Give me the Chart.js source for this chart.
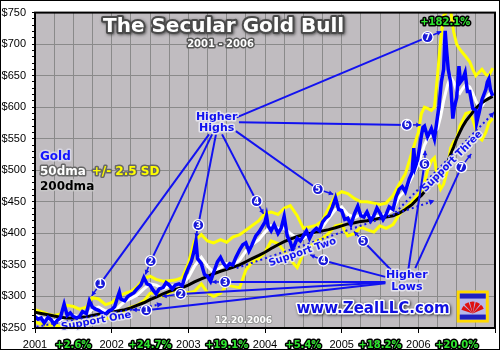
<!DOCTYPE html>
<html>
<head>
<meta charset="utf-8">
<script src="https://cdn.jsdelivr.net/npm/chart.js@4.4.1/dist/chart.umd.min.js"></script>
<style>
  body { margin: 0; background: #fff; }
  #wrap { width: 500px; height: 350px; position: relative; }
</style>
</head>
<body>
<div id="wrap"><canvas id="goldChart"></canvas></div>
<script>
// 金価格（半月ごと、ピーク付近は追加）
const goldDates = [
  2001.00, 2001.04, 2001.08, 2001.12, 2001.17, 2001.21, 2001.25, 2001.29, 2001.33, 2001.38, 2001.42, 2001.46,
  2001.50, 2001.54, 2001.58, 2001.62, 2001.67, 2001.71, 2001.75, 2001.79, 2001.83, 2001.88, 2001.92, 2001.96,
  2002.00, 2002.04, 2002.08, 2002.10, 2002.12, 2002.17, 2002.21, 2002.25, 2002.29, 2002.33, 2002.38, 2002.42,
  2002.46, 2002.50, 2002.54, 2002.58, 2002.62, 2002.67, 2002.71, 2002.75, 2002.79, 2002.83, 2002.88, 2002.92, 2002.96,
  2003.00, 2003.04, 2003.07, 2003.10, 2003.12, 2003.17, 2003.21, 2003.25, 2003.29, 2003.33, 2003.38, 2003.42,
  2003.46, 2003.50, 2003.54, 2003.58, 2003.62, 2003.67, 2003.71, 2003.75, 2003.79, 2003.83, 2003.88, 2003.92, 2003.96,
  2004.00, 2004.02, 2004.04, 2004.08, 2004.12, 2004.17, 2004.21, 2004.25, 2004.29, 2004.33, 2004.36, 2004.38,
  2004.42, 2004.46, 2004.50, 2004.54, 2004.58, 2004.62, 2004.67, 2004.71, 2004.75, 2004.79, 2004.83, 2004.88, 2004.92, 2004.96,
  2005.00, 2005.04, 2005.08, 2005.12, 2005.17, 2005.21, 2005.25, 2005.29, 2005.33, 2005.38, 2005.42, 2005.46,
  2005.50, 2005.54, 2005.58, 2005.62, 2005.67, 2005.71, 2005.75, 2005.79, 2005.83, 2005.88, 2005.92, 2005.94, 2005.96, 2005.99,
  2006.04, 2006.06, 2006.08, 2006.12, 2006.17, 2006.21, 2006.25, 2006.27, 2006.30, 2006.33, 2006.35, 2006.37, 2006.39,
  2006.42, 2006.45, 2006.47, 2006.50, 2006.53, 2006.55, 2006.58, 2006.61, 2006.64, 2006.67, 2006.71, 2006.75, 2006.76,
  2006.79, 2006.83, 2006.88, 2006.90, 2006.92, 2006.94, 2006.97
];
const goldPrice = [
  268, 264, 266, 258, 267, 263, 256, 262, 266, 288, 270, 274,
  268, 266, 268, 276, 273, 293, 283, 280, 278, 274, 272, 277,
  279, 284, 300, 307, 296, 293, 300, 303, 306, 312, 318, 330,
  320, 318, 310, 304, 312, 314, 322, 318, 312, 318, 320, 317, 333,
  345, 356, 370, 388, 360, 352, 335, 332, 324, 338, 355, 362,
  352, 346, 352, 350, 362, 374, 382, 385, 372, 382, 396, 402, 410,
  418, 428, 412, 404, 414, 400, 408, 427, 396, 386, 374, 380,
  392, 388, 396, 404, 392, 402, 408, 404, 418, 424, 428, 442, 456, 438,
  436, 422, 424, 414, 432, 443, 428, 426, 434, 420, 428, 440,
  432, 422, 430, 442, 438, 458, 470, 474, 466, 486, 497, 535, 505, 516,
  555, 568, 570, 553, 566, 550, 585, 602, 640, 660, 721, 688, 660,
  640, 582, 600, 615, 665, 640, 645, 655, 625, 625, 598, 595, 575,
  590, 612, 628, 640, 645, 628, 618
];

// 移動平均・バンド（2001〜2005は月次、2006は半月）
const bandDates = [
  2001.00, 2001.08, 2001.17, 2001.25, 2001.33, 2001.42, 2001.50, 2001.58, 2001.67, 2001.75, 2001.83, 2001.92,
  2002.00, 2002.08, 2002.17, 2002.25, 2002.33, 2002.42, 2002.50, 2002.58, 2002.67, 2002.75, 2002.83, 2002.92,
  2003.00, 2003.08, 2003.17, 2003.25, 2003.33, 2003.42, 2003.50, 2003.58, 2003.67, 2003.75, 2003.83, 2003.92,
  2004.00, 2004.08, 2004.17, 2004.25, 2004.33, 2004.42, 2004.50, 2004.58, 2004.67, 2004.75, 2004.83, 2004.92,
  2005.00, 2005.08, 2005.17, 2005.25, 2005.33, 2005.42, 2005.50, 2005.58, 2005.67, 2005.75, 2005.83, 2005.92,
  2006.00, 2006.04, 2006.08, 2006.12, 2006.17, 2006.21, 2006.25, 2006.29, 2006.33, 2006.38, 2006.42, 2006.46,
  2006.50, 2006.54, 2006.58, 2006.62, 2006.67, 2006.71, 2006.75, 2006.79, 2006.83, 2006.88, 2006.92, 2006.97
];
const dma50 = [
  271, 266, 263, 262, 262, 270, 270, 268, 270, 280, 283, 277,
  278, 282, 292, 297, 302, 312, 320, 318, 312, 316, 318, 320,
  330, 348, 362, 348, 338, 346, 352, 350, 358, 372, 382, 390,
  402, 412, 408, 408, 400, 392, 392, 398, 402, 410, 424, 438,
  442, 430, 425, 430, 428, 426, 428, 430, 438, 458, 468, 490,
  510, 525, 540, 550, 556, 560, 566, 585, 610, 635, 648, 640,
  626, 622, 630, 636, 632, 622, 610, 600, 602, 612, 620, 626
];
const dma200 = [
  275, 273, 271, 269, 267, 266, 266, 267, 268, 270, 272, 273,
  275, 277, 279, 282, 286, 290, 295, 299, 304, 308, 311, 314,
  318, 323, 328, 332, 336, 340, 343, 346, 350, 355, 360, 365,
  370, 376, 382, 387, 391, 395, 398, 400, 402, 404, 406, 409,
  412, 415, 417, 419, 420, 422, 424, 426, 428, 432, 438, 446,
  456, 460, 466, 472, 477, 484, 490, 497, 503, 512, 525, 537,
  550, 560, 570, 578, 586, 592, 598, 603, 607, 611, 614, 617
];
const upperBand = [
  279, 276, 272, 270, 272, 286, 284, 280, 283, 298, 296, 287,
  290, 299, 305, 308, 315, 328, 332, 327, 324, 325, 326, 330,
  352, 388, 398, 388, 385, 390, 386, 394, 398, 405, 412, 420,
  432, 434, 430, 440, 444, 428, 408, 410, 413, 420, 440, 460,
  466, 463, 455, 450, 450, 448, 446, 448, 460, 478, 494, 530,
  560, 590, 600, 598, 595, 600, 650, 705, 745, 752, 755, 720,
  700, 692, 686, 680, 672, 660, 650, 655, 660, 652, 650, 662
];
const lowerBand = [
  260, 256, 254, 255, 252, 253, 258, 260, 258, 262, 268, 266,
  265, 266, 278, 283, 286, 293, 305, 306, 300, 306, 310, 308,
  306, 308, 320, 306, 300, 305, 318, 316, 314, 342, 354, 360,
  370, 388, 384, 372, 358, 346, 368, 378, 388, 392, 400, 412,
  414, 396, 400, 410, 406, 402, 412, 408, 414, 430, 440, 450,
  462, 468, 480, 500, 515, 520, 485, 470, 478, 500, 535, 545,
  550, 570, 580, 590, 592, 580, 565, 552, 548, 560, 575, 582
];

// 年間騰落率（年の中央に表示）
const yearMid = [2001.5, 2002.5, 2003.5, 2004.5, 2005.5, 2006.5];
const yearGain = ['+2.6%', '+24.7%', '+19.1%', '+5.4%', '+18.2%', '+20.0%'];

// 注記（[年, 価格]）
const highBadges = [[2001.85, 320], [2002.51, 356], [2003.13, 413], [2003.89, 451], [2004.69, 470], [2005.85, 572], [2006.12, 711]];
const highTips   = [[2001.74, 301], [2002.44, 335], [2003.10, 393], [2003.98, 431], [2004.89, 462], [2006.03, 572], [2006.30, 720]];
const highFrom   = [[2003.27, 557], [2003.31, 557], [2003.36, 557], [2003.44, 557], [2003.62, 562], [2003.66, 576], [2003.63, 584]];
const lowBadges  = [[2002.45, 278], [2002.90, 304], [2003.48, 323], [2004.76, 357], [2005.28, 388], [2006.08, 510], [2006.56, 505]];
const lowTips    = [[2002.27, 279], [2002.66, 300], [2003.31, 323], [2004.59, 366], [2005.16, 403], [2006.09, 531], [2006.69, 526]];
const lowFrom    = [[2005.57, 321], [2005.57, 322], [2005.57, 323], [2005.57, 331], [2005.66, 340], [2005.87, 343], [2005.96, 345]];
const supportNames = ['Support One', 'Support Two', 'Support Three'];
const supportFrom  = [[2001.02, 252], [2003.63, 345], [2005.70, 433]];
const supportTo    = [[2002.66, 288], [2006.21, 452], [2006.99, 592]];
const supportText  = [[2001.80, 261], [2004.49, 370], [2006.44, 514]];

Chart.defaults.font.family = "'Liberation Sans', Arial, sans-serif";
const BOLD = "'DejaVu Sans', Verdana, sans-serif";

function outlined(ctx, text, x, y, o) {
  ctx.save();
  ctx.translate(x, y);
  if (o.rot) ctx.rotate(o.rot);
  ctx.font = o.font;
  ctx.textAlign = o.align || 'center';
  ctx.textBaseline = 'middle';
  ctx.lineJoin = 'round';
  if (o.shadow) {
    ctx.shadowColor = o.shadow;
    ctx.shadowBlur = 3;
    ctx.shadowOffsetX = 1;
    ctx.shadowOffsetY = 1;
  }
  if (o.stroke) {
    ctx.strokeStyle = o.stroke;
    ctx.lineWidth = o.lw || 3;
    ctx.strokeText(text, 0, 0);
  }
  ctx.shadowColor = 'transparent';
  ctx.fillStyle = o.fill;
  ctx.fillText(text, 0, 0);
  ctx.restore();
}

function arrowHead(ctx, x1, y1, x2, y2, size) {
  const a = Math.atan2(y2 - y1, x2 - x1);
  ctx.beginPath();
  ctx.moveTo(x2, y2);
  ctx.lineTo(x2 - size * Math.cos(a - 0.5), y2 - size * Math.sin(a - 0.5));
  ctx.lineTo(x2 - size * Math.cos(a + 0.5), y2 - size * Math.sin(a + 0.5));
  ctx.closePath();
  ctx.fill();
}

function badge(ctx, n, x, y) {
  ctx.beginPath();
  ctx.arc(x, y, 5.5, 0, Math.PI * 2);
  ctx.fillStyle = '#1a1ad8';
  ctx.fill();
  ctx.strokeStyle = '#ffffff';
  ctx.lineWidth = 1.3;
  ctx.stroke();
  ctx.fillStyle = '#ffffff';
  ctx.font = `bold 8px ${BOLD}`;
  ctx.textAlign = 'center';
  ctx.textBaseline = 'middle';
  ctx.fillText(String(n), x, y + 0.5);
}

const plotBg = {
  id: 'plotBg',
  beforeDraw(chart) {
    const { ctx, chartArea: a } = chart;
    ctx.save();
    ctx.fillStyle = '#c0bcc0';
    ctx.fillRect(a.left, a.top, a.right - a.left, a.bottom - a.top);
    ctx.restore();
  },
  afterDraw(chart) {
    const { ctx, chartArea: a } = chart;
    ctx.save();
    ctx.strokeStyle = '#000';
    ctx.lineWidth = 2;
    ctx.strokeRect(a.left, a.top, a.right - a.left, a.bottom - a.top);
    ctx.lineWidth = 1;
    ctx.strokeRect(0.5, 0.5, chart.width - 1, chart.height - 1);
    ctx.restore();
  }
};

const annotations = {
  id: 'annotations',
  afterDatasetsDraw(chart) {
    const { ctx, scales: { x, y }, chartArea } = chart;
    const P = ([yr, v]) => [x.getPixelForValue(yr), y.getPixelForValue(v)];
    const blue = '#1212f0';
    const halo = 'rgba(235,235,245,0.85)';
    ctx.save();

    // サポートライン（点線＋矢印）
    supportFrom.forEach((f, i) => {
      const [x1, y1] = P(f), [x2, y2] = P(supportTo[i]);
      ctx.strokeStyle = blue;
      ctx.fillStyle = blue;
      ctx.lineWidth = 2;
      ctx.setLineDash([2, 3]);
      ctx.beginPath();
      ctx.moveTo(x1, y1);
      ctx.lineTo(x2, y2);
      ctx.stroke();
      ctx.setLineDash([]);
      arrowHead(ctx, x1, y1, x2, y2, 6);
      const [tx, ty] = P(supportText[i]);
      outlined(ctx, supportNames[i], tx, ty, {
        font: `bold 10px ${BOLD}`, fill: blue, stroke: halo, lw: 3,
        rot: Math.atan2(y2 - y1, x2 - x1)
      });
    });

    // 高値・安値へのリード線
    ctx.strokeStyle = blue;
    ctx.lineWidth = 2;
    highFrom.forEach((f, i) => {
      const [x1, y1] = P(f), [x2, y2] = P(highBadges[i]);
      ctx.beginPath(); ctx.moveTo(x1, y1); ctx.lineTo(x2, y2); ctx.stroke();
    });
    lowFrom.forEach((f, i) => {
      const [x1, y1] = P(f), [x2, y2] = P(lowBadges[i]);
      ctx.beginPath(); ctx.moveTo(x1, y1); ctx.lineTo(x2, y2); ctx.stroke();
    });

    // 番号付き矢印
    const drawBadges = (badges, tips) => badges.forEach((b, i) => {
      const [x1, y1] = P(b), [x2, y2] = P(tips[i]);
      ctx.strokeStyle = blue;
      ctx.fillStyle = blue;
      ctx.lineWidth = 1.5;
      ctx.beginPath(); ctx.moveTo(x1, y1); ctx.lineTo(x2, y2); ctx.stroke();
      arrowHead(ctx, x1, y1, x2, y2, 5);
      badge(ctx, i + 1, x1, y1);
    });
    drawBadges(highBadges, highTips);
    drawBadges(lowBadges, lowTips);

    const lbl = { font: `bold 11px ${BOLD}`, fill: blue, stroke: halo, lw: 3 };
    outlined(ctx, 'Higher', ...P([2003.37, 585]), lbl);
    outlined(ctx, 'Highs', ...P([2003.37, 567]), lbl);
    outlined(ctx, 'Higher', ...P([2005.85, 334]), lbl);
    outlined(ctx, 'Lows', ...P([2005.85, 315]), lbl);

    // タイトル
    outlined(ctx, 'The Secular Gold Bull', ...P([2003.46, 728]), {
      font: `bold 20px ${BOLD}`, fill: '#ffffff', stroke: '#4a4a4a', lw: 4, shadow: 'rgba(60,60,60,0.8)'
    });
    outlined(ctx, '2001 - 2006', ...P([2003.42, 700]), {
      font: `bold 10px ${BOLD}`, fill: '#ffffff', stroke: '#555555', lw: 3
    });

    // 凡例
    const lg = { font: `bold 12px ${BOLD}`, align: 'left', lw: 3 };
    outlined(ctx, 'Gold', ...P([2001.065, 522]), { ...lg, fill: '#1414ff', stroke: 'rgba(220,220,235,0.8)' });
    outlined(ctx, '50dma', ...P([2001.065, 498]), { ...lg, fill: '#ffffff', stroke: '#666666' });
    outlined(ctx, '+/- 2.5 SD', ...P([2001.74, 498]), { ...lg, fill: '#ffff00', stroke: '#666666' });
    outlined(ctx, '200dma', ...P([2001.065, 474]), { ...lg, fill: '#000000', stroke: 'rgba(200,200,200,0.8)' });

    outlined(ctx, '12.20.2006', ...P([2003.72, 262]), {
      font: `bold 9px ${BOLD}`, fill: '#ffffff', stroke: '#9a9a9a', lw: 2
    });
    outlined(ctx, 'www.ZealLLC.com', ...P([2005.41, 280]), {
      font: `bold 15px ${BOLD}`, fill: '#1010e0', stroke: '#ffffff', lw: 3, shadow: 'rgba(40,40,40,0.9)'
    });
    outlined(ctx, '+182.1%', ...P([2006.35, 734]), {
      font: `bold 10px ${BOLD}`, fill: '#2ee62e', stroke: '#000000', lw: 3
    });

    // ロゴ
    const [lx, ly] = P([2006.71, 284]);
    ctx.fillStyle = '#ffd800';
    ctx.fillRect(lx - 16, ly - 16, 32, 32);
    ctx.fillStyle = '#b8b8e8';
    ctx.fillRect(lx - 13, ly - 13, 26, 26);
    ctx.fillStyle = '#2020c0';
    ctx.fillRect(lx - 13, ly - 13, 26, 5);
    ctx.fillRect(lx - 13, ly + 8, 26, 5);
    ctx.fillStyle = '#e01010';
    for (let k = 0; k < 5; k++) {
      const a0 = Math.PI * (1.1 + k * 0.16);
      ctx.beginPath();
      ctx.moveTo(lx, ly + 7);
      ctx.arc(lx, ly + 7, 12, a0, a0 + 0.4);
      ctx.closePath();
      ctx.fill();
    }

    // 年間騰落率
    yearMid.forEach((yr, i) => {
      outlined(ctx, yearGain[i], x.getPixelForValue(yr), chartArea.bottom + 17, {
        font: `bold 10px ${BOLD}`, fill: '#2ee62e', stroke: '#000000', lw: 3
      });
    });
    ctx.restore();
  }
};

const series = (label, xs, ys, color, width) => ({
  label,
  data: xs.map((v, i) => ({ x: v, y: ys[i] })),
  borderColor: color,
  borderWidth: width,
  pointRadius: 0,
  tension: 0,
  fill: false
});

new Chart(document.getElementById('goldChart'), {
  type: 'line',
  data: {
    datasets: [
      series('Gold', goldDates, goldPrice, '#0000ff', 3.5),
      series('200dma', bandDates, dma200, '#000000', 3),
      series('50dma', bandDates, dma50, '#ffffff', 3),
      series('Upper', bandDates, upperBand, '#ffff00', 3),
      series('Lower', bandDates, lowerBand, '#ffff00', 3)
    ]
  },
  options: {
    responsive: true,
    maintainAspectRatio: false,
    animation: false,
    layout: { padding: { top: 6, right: 2, left: 0, bottom: 0 } },
    plugins: { legend: { display: false }, tooltip: { enabled: false } },
    scales: {
      x: {
        type: 'linear',
        min: 2001,
        max: 2007,
        afterFit: s => { s.height = 22; },
        border: { display: true, color: '#000', width: 2 },
        grid: {
          color: '#8a8a8a',
          tickColor: c => Number.isInteger(c.tick.value) ? '#000' : 'rgba(0,0,0,0)',
          tickLength: 5
        },
        ticks: {
          stepSize: 0.25,
          autoSkip: false,
          maxRotation: 0,
          maxTicksLimit: 100,
          padding: 5,
          color: '#000',
          font: { size: 11 },
          callback: v => Number.isInteger(v) && v < 2007 ? String(v) : ''
        }
      },
      y: {
        min: 250,
        max: 750,
        afterFit: s => { s.width = 35; },
        border: { display: true, color: '#000', width: 2 },
        grid: {
          color: c => c.tick && c.tick.value % 50 === 0 ? '#8a8a8a' : 'rgba(0,0,0,0)',
          tickColor: '#000',
          tickLength: 3
        },
        ticks: {
          stepSize: 10,
          autoSkip: false,
          maxTicksLimit: 100,
          padding: 6,
          color: '#000',
          font: { size: 11 },
          callback: v => v % 50 === 0 ? '$' + v : ''
        }
      }
    }
  },
  plugins: [plotBg, annotations]
});
</script>
</body>
</html>
